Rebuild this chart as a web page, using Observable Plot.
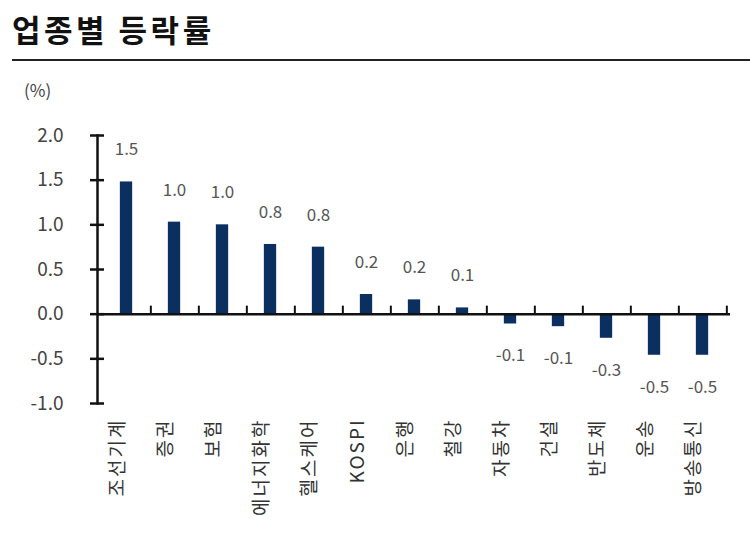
<!DOCTYPE html>
<html>
<head>
<meta charset="utf-8">
<script src="https://cdn.jsdelivr.net/npm/d3@7"></script>
<script src="https://cdn.jsdelivr.net/npm/@observablehq/plot@0.6"></script>
<style>
  body { margin: 0; background: #fff; font-family: "Noto Sans CJK KR", "Noto Sans", sans-serif; }
  #wrap { position: relative; width: 750px; height: 540px; overflow: hidden; }
  #title { position: absolute; left: 12px; top: 6px; font-size: 31px; font-weight: 700; color: #111; letter-spacing: 3.5px; }
  #rule { position: absolute; left: 12px; right: 0; top: 59px; height: 0; border-top: 2px solid #222; }
  #unit { position: absolute; left: 24px; top: 77px; font-size: 17px; color: #444; z-index: 2; }
  #chart { position: absolute; left: 0; top: 70px; z-index: 1; }
  g[aria-description="xlabels"] text { letter-spacing: 2px; }
</style>
</head>
<body>
<div id="wrap">
  <div id="title">업종별 등락률</div>
  <div id="rule"></div>
  <div id="unit">(%)</div>
  <div id="chart"></div>
</div>
<script>
const categories = ["조선기계", "증권", "보험", "에너지화학", "헬스케어", "KOSPI", "은행", "철강", "자동차", "건설", "반도체", "운송", "방송통신"];
const values = [1.48, 1.03, 1.0, 0.78, 0.75, 0.22, 0.16, 0.07, -0.11, -0.14, -0.27, -0.46, -0.46];
const yTicks = [-1.0, -0.5, 0.0, 0.5, 1.0, 1.5, 2.0];

const data = categories.map((c, i) => ({cat: c, value: values[i]}));

const W = 750, H = 470, mL = 97, mR = 20, mT = 65, mB = 137;
const half = (W - mL - mR) / categories.length / 2;
const fmt = v => (Math.round(v * 10) / 10).toFixed(1);

const chart = Plot.plot({
  width: W,
  height: H,
  marginLeft: mL,
  marginRight: mR,
  marginTop: mT,
  marginBottom: mB,
  style: {fontFamily: "'Noto Sans CJK KR', 'Noto Sans', sans-serif", background: "transparent"},
  x: {domain: categories, padding: 0, axis: null, label: null},
  y: {domain: [-1, 2], axis: null, label: null},
  marks: [
    Plot.barY(data, {x: "cat", y: "value", fill: "#0b2f5e", insetLeft: half - 6.5, insetRight: half - 6.5}),
    Plot.ruleX(categories, {x: d => d, y1: 0, y2: 0.09, dx: half, stroke: "#111", strokeWidth: 2}),
    Plot.ruleY([0], {stroke: "#111", strokeWidth: 2.5}),
    Plot.frame({anchor: "left", stroke: "#111", strokeWidth: 2.5}),
    Plot.axisY({ticks: yTicks, tickSize: 14, dx: 7, stroke: "#111", strokeWidth: 2.5, tickFormat: () => "", label: null}),
    Plot.axisY({ticks: yTicks, tickFormat: fmt, tickSize: 0, tickPadding: 34, fontSize: 19, fill: "#444", label: null}),
    Plot.text(data.filter(d => d.value >= 0), {x: "cat", y: "value", text: d => fmt(d.value), dy: -32, fontSize: 17, fill: "#555"}),
    Plot.text(data.filter(d => d.value < 0), {x: "cat", y: "value", text: d => fmt(d.value), dy: 32, fontSize: 17, fill: "#555"}),
    Plot.text(categories, {x: d => d, text: d => d, frameAnchor: "bottom", rotate: -90, textAnchor: "end", dy: 15, dx: -3, fontSize: 19, fill: "#333", ariaDescription: "xlabels"})
  ]
});
document.getElementById("chart").appendChild(chart);
</script>
</body>
</html>
